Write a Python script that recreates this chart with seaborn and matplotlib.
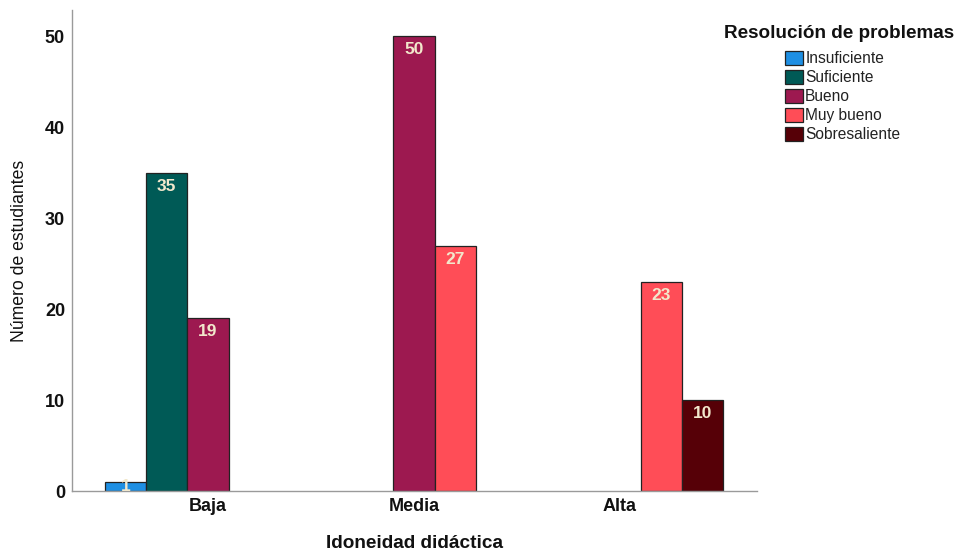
import matplotlib
matplotlib.use("Agg")
import matplotlib.pyplot as plt
import seaborn as sns
import pandas as pd
import numpy as np

categories = ["Baja", "Media", "Alta"]
levels = ["Insuficiente", "Suficiente", "Bueno", "Muy bueno", "Sobresaliente"]
grp = ["Baja", "Baja", "Baja", "Media", "Media", "Alta", "Alta"]
lvl = ["Insuficiente", "Suficiente", "Bueno", "Bueno", "Muy bueno", "Muy bueno", "Sobresaliente"]
vals = [1, 35, 19, 50, 27, 23, 10]
colors = ["#1E8FE3", "#005A56", "#9D1950", "#FF4D57", "#560007"]

df = pd.DataFrame({"Idoneidad": grp, "Nivel": lvl, "n": vals})

sns.set_theme(style="white")
plt.rcParams["font.family"] = ["Liberation Sans", "DejaVu Sans"]

fig = plt.figure(figsize=(9.62, 5.5), dpi=100)
ax = fig.add_axes([0.0748, 0.107, 0.712, 0.875])

sns.barplot(data=df, x="Idoneidad", y="n", hue="Nivel", order=categories,
            hue_order=levels, palette=colors, width=1.0, dodge=True,
            edgecolor="#222222", linewidth=0.9, saturation=1, ax=ax, legend=True)

ax.set_xlim(-0.66, 2.665)
ax.set_ylim(0, 52.9)
ax.set_yticks([0, 10, 20, 30, 40, 50])
ax.tick_params(axis="both", length=0, labelsize=13, pad=5)
for t in ax.get_xticklabels() + ax.get_yticklabels():
    t.set_fontweight("bold")
    t.set_color("#111111")

for c in ax.containers:
    for bar in c:
        h = bar.get_height()
        if np.isnan(h) or h <= 0:
            continue
        y = h - min(1.5, h / 2)
        ax.text(bar.get_x() + bar.get_width() / 2, y, f"{int(round(h))}",
                ha="center", va="center", color="#F2E8CC", fontsize=12.5,
                fontweight="bold")

for s in ["top", "right"]:
    ax.spines[s].set_visible(False)
for s in ["left", "bottom"]:
    ax.spines[s].set_color("#9a9a9a")
    ax.spines[s].set_linewidth(1.0)

ax.set_xlabel("Idoneidad didáctica", fontsize=13.7, fontweight="bold", labelpad=14, color="#111111")
ax.set_ylabel("Número de estudiantes", fontsize=12.7, labelpad=12, color="#111111")

handles, labels = ax.get_legend_handles_labels()
ax.legend_.remove()
fig.text(724 / 962, 1 - 33 / 550, "Resolución de problemas", fontsize=13.6,
         fontweight="bold", ha="left", va="center", color="#111111")
leg = fig.legend(handles, labels,
                 loc="upper left", bbox_to_anchor=(785 / 962, 1 - 51 / 550),
                 frameon=False, fontsize=11.2,
                 handlelength=1.15, handleheight=1.0, handletextpad=0.15,
                 labelspacing=0.24, borderaxespad=0, borderpad=0)
for t in leg.get_texts():
    t.set_color("#222222")

fig.savefig("out.png", dpi=100)
